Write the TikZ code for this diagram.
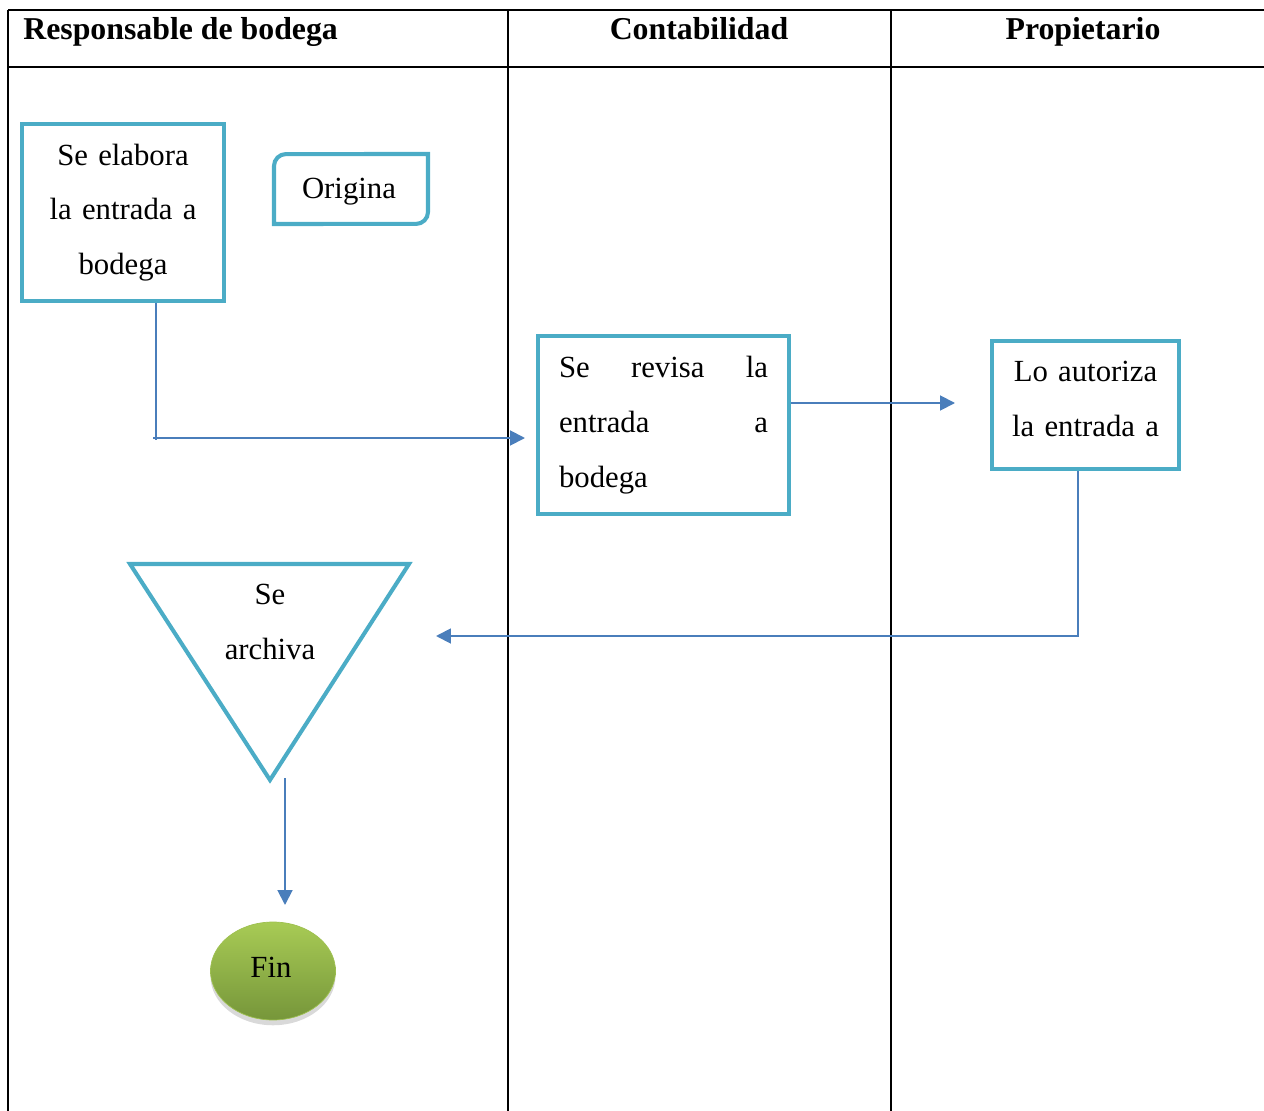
\documentclass[tikz,border=0pt]{standalone}
\usepackage{fontspec}
\setmainfont{Liberation Serif}
\usetikzlibrary{arrows.meta, shapes.geometric, shadows}

\definecolor{laneteal}{HTML}{4BACC6}
\definecolor{flowblue}{HTML}{4A7EBB}
\definecolor{fintop}{HTML}{A8CB55}
\definecolor{finbottom}{HTML}{76963A}

\tikzset{
  stepbox/.style={draw=laneteal, line width=2.3pt, inner sep=0pt},
  flow/.style={draw=flowblue, line width=1.1pt},
  flowarrow/.style={flow, -{Triangle[length=8.5pt, width=8.5pt]}},
  lane/.style={line width=1.2pt},
  body/.style={font=\fontsize{17.5}{31.2}\selectfont},
  head/.style={font=\fontsize{18.1}{20}\selectfont\bfseries, inner sep=0pt},
}

\begin{document}
\begin{tikzpicture}[x=0.02cm, y=-0.02cm]
  \useasboundingbox (0, 0) rectangle (1264, 1111);
  % Draw lanes
  \draw [lane] (8, 10) -- (1264, 10);
  \draw [lane] (8, 67) -- (1264, 67);
  \draw [lane] (8, 10) -- (8, 1111);
  \draw [lane] (508, 10) -- (508, 1111);
  \draw [lane] (891, 10) -- (891, 1111);
  % Add lane labels
  \node [head, anchor=base west] (resp) at (23, 40) {Responsable de bodega};
  \node [head, anchor=base] (conta) at (699, 40) {Contabilidad};
  \node [head, anchor=base] (prop) at (1083, 40) {Propietario};
  % Add steps
  \node [stepbox, body, minimum width=4.04cm, minimum height=3.54cm,
    text width=3.6cm, align=center] (elabora) at (123, 212.5)
    {Se elabora\\la entrada a\\bodega};
  \draw [draw=laneteal, line width=2.3pt] (274, 224) -- (274, 166)
    arc [start angle=180, end angle=90, radius=6.8pt] -- (428, 154) -- (428, 212)
    arc [start angle=0, end angle=-90, radius=6.8pt] -- cycle;
  \node [body] (origina) at (349, 192) {Origina};
  \node [stepbox, body, minimum width=5.02cm, minimum height=3.56cm,
    text width=4.18cm, align=left] (revisa) at (663.5, 425)
    {Se \hfill revisa \hfill la\\entrada \hfill a\\bodega};
  \node [stepbox, minimum width=3.74cm, minimum height=2.56cm] (autoriza) at (1085.5, 405) {};
  \node [body, text width=3.3cm, align=center] (autoriza text) at (1085.5, 399)
    {Lo autoriza\\la entrada a};
  % Draw the archive triangle
  \draw [draw=laneteal, line width=2.3pt] (130, 564) -- (409, 564) -- (270, 780) -- cycle;
  \node [body, align=center] (archiva) at (270, 622) {Se\\archiva};
  % Add end
  \node [ellipse, minimum width=2.5cm, minimum height=1.96cm, inner sep=0pt,
    top color=fintop, bottom color=finbottom, draw=fintop!80!finbottom, line width=0.4pt,
    drop shadow={shadow xshift=0pt, shadow yshift=-3pt, opacity=0.3},
    body] (fin) at (273, 971) {};
  \node [body] (fin text) at (271, 967) {Fin};
  % Connectors
  \coordinate (elabora turn) at (156, 440);
  \coordinate (lane start) at (153, 438);
  \coordinate (revisa in) at (525, 438);
  \coordinate (autoriza in) at (955, 403);
  \coordinate (autoriza turn) at (1078, 636);
  \coordinate (archiva in) at (436, 636);
  \coordinate (archiva out) at (285, 778);
  \coordinate (fin in) at (285, 905);
  \draw [flow] (elabora.south -| elabora turn) -- (elabora turn);
  \draw [flowarrow] (lane start) -- (revisa in);
  \draw [flowarrow] (revisa.east |- autoriza in) -- (autoriza in);
  \draw [flowarrow] (autoriza.south -| autoriza turn) -- (autoriza turn) -- (archiva in);
  \draw [flowarrow] (archiva out) -- (fin in);
\end{tikzpicture}
\end{document}
